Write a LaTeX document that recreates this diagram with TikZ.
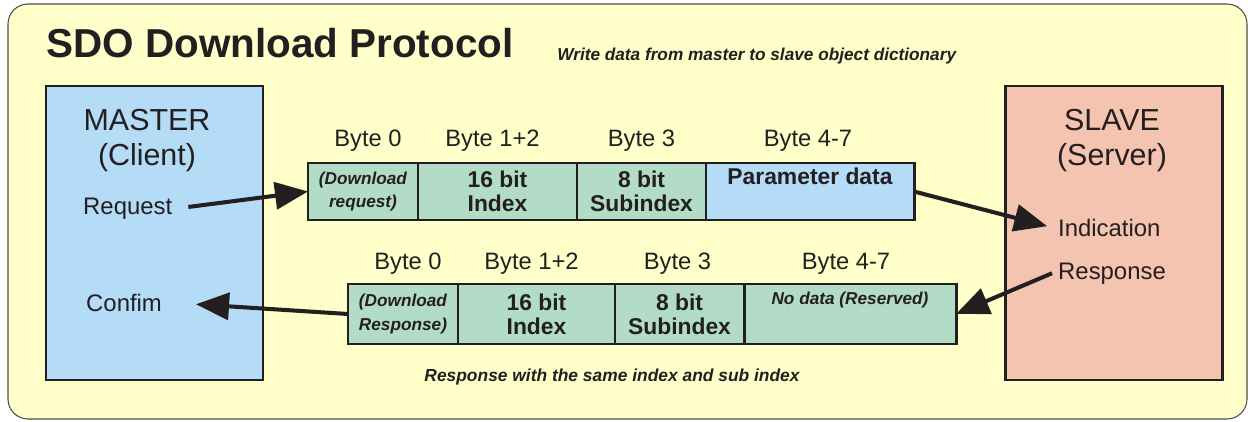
\documentclass[tikz,border=0pt]{standalone}
\usepackage{fontspec}
\setmainfont{Liberation Sans}
\usepackage{xcolor}
\usepackage{tikz}
\usetikzlibrary{arrows.meta, positioning, calc}

\definecolor{bgyellow}{HTML}{FFFFC9}
\definecolor{masterblue}{HTML}{B4DCF6}
\definecolor{slavepink}{HTML}{F5C4B0}
\definecolor{cellgreen}{HTML}{B2DCC8}
\definecolor{inkdark}{HTML}{231F20}

\tikzstyle{station} = [rectangle, draw=inkdark, line width=1.7pt, minimum width=4.34cm, minimum height=5.88cm]
\tikzstyle{cell} = [rectangle, draw=inkdark, line width=1.7pt, fill=cellgreen, outer sep=0pt, inner sep=1pt, align=center, text=inkdark, font=\fontsize{13}{13.6}\selectfont\bfseries]
\tikzstyle{celltag} = [cell, font=\fontsize{9.8}{13.6}\selectfont\bfseries\itshape]
\tikzstyle{bytelbl} = [anchor=base, text=inkdark, font=\fontsize{13.5}{16}\selectfont]
\tikzstyle{sidelbl} = [anchor=base west, text=inkdark, font=\fontsize{13.6}{16}\selectfont]
\tikzstyle{bigarrow} = [line width=2.3pt, draw=inkdark, -{Triangle[length=0.66cm, width=0.54cm]}]

\begin{document}
\begin{tikzpicture}[node distance=0pt]
    \useasboundingbox (0,0) rectangle (24.96,8.42);
    \draw[rounded corners=0.4cm, fill=bgyellow, draw=inkdark!80, line width=0.6pt] (0.16,0.04) rectangle (24.94,8.34);

    % Heading
    \node (title) [anchor=base west, inner sep=0pt, text=inkdark, font=\fontsize{23}{26}\selectfont\bfseries] at (0.92, 7.26) {SDO Download Protocol};
    \node (subtitle) [anchor=base west, inner sep=0pt, text=inkdark, font=\fontsize{9.8}{12}\selectfont\bfseries\itshape] at (11.14, 7.22) {Write data from master to slave object dictionary};

    % Master (left)
    \node (master) [station, fill=masterblue] at (3.09, 3.76) {};
    \node (mastername) [anchor=base, align=center, text=inkdark, font=\fontsize{17.3}{19.8}\selectfont] at (2.94, 5.12) {MASTER\\(Client)};
    \node (req) [sidelbl] at (1.54, 4.14) {Request};
    \node (conf) [sidelbl] at (1.6, 2.2) {Confim};

    % Slave (right)
    \node (slave) [station, fill=slavepink] at (22.28, 3.76) {};
    \node (slavename) [anchor=base, align=center, text=inkdark, font=\fontsize{17.3}{19.8}\selectfont] at (22.24, 5.12) {SLAVE\\(Server)};
    \node (ind) [sidelbl] at (21.04, 3.7) {Indication};
    \node (resp) [sidelbl] at (21.04, 2.84) {Response};

    % Request frame (top)
    \node (t0) [celltag, anchor=west, minimum width=2.2cm, minimum height=1.14cm] at (6.16, 4.59) {(Download\\request)};
    \node (t1) [cell, right=of t0, minimum width=3.18cm, minimum height=1.14cm] {16 bit\\Index};
    \node (t2) [cell, right=of t1, minimum width=2.58cm, minimum height=1.14cm] {8 bit\\Subindex};
    \node (t3) [cell, right=of t2, minimum width=4.16cm, minimum height=1.14cm, fill=masterblue] {Parameter data\\\strut};

    \node (t0lbl) [bytelbl] at ($(t0.north)+(0.1,0.34)$) {Byte 0};
    \node (t1lbl) [bytelbl] at ($(t1.north)+(-0.1,0.34)$) {Byte 1+2};
    \node (t2lbl) [bytelbl] at ($(t2.north)+(0,0.34)$) {Byte 3};
    \node (t3lbl) [bytelbl] at ($(t3.north)+(-0.04,0.34)$) {Byte 4-7};

    % Response frame (bottom)
    \node (b0) [celltag, anchor=west, minimum width=2.2cm, minimum height=1.2cm] at (6.96, 2.14) {(Download\\Response)};
    \node (b1) [cell, right=of b0, minimum width=3.14cm, minimum height=1.2cm] {16 bit\\Index};
    \node (b2) [cell, right=of b1, minimum width=2.58cm, minimum height=1.2cm] {8 bit\\Subindex};
    \node (b3) [celltag, right=of b2, minimum width=4.24cm, minimum height=1.2cm] {No data (Reserved)\\\strut};

    \node (b0lbl) [bytelbl] at ($(b0.north)+(0.1,0.3)$) {Byte 0};
    \node (b1lbl) [bytelbl] at ($(b1.north)+(-0.1,0.3)$) {Byte 1+2};
    \node (b2lbl) [bytelbl] at ($(b2.north)+(-0.04,0.3)$) {Byte 3};
    \node (b3lbl) [bytelbl] at ($(b3.north)+(-0.08,0.3)$) {Byte 4-7};

    \node (note) [anchor=base, inner sep=0pt, text=inkdark, font=\fontsize{9.9}{12}\selectfont\bfseries\itshape] at (12.24, 0.8) {Response with the same index and sub index};

    % Arrows
    \draw [bigarrow, shorten <=0.2cm] (req.east) -- (t0.west);
    \draw [bigarrow, shorten >=0.1cm] (t3.east) -- (ind.west);
    \draw [bigarrow] (resp.west) -- (b3.east);
    \draw [bigarrow, shorten >=0.56cm] (b0.west) -- (conf.east);
\end{tikzpicture}
\end{document}
